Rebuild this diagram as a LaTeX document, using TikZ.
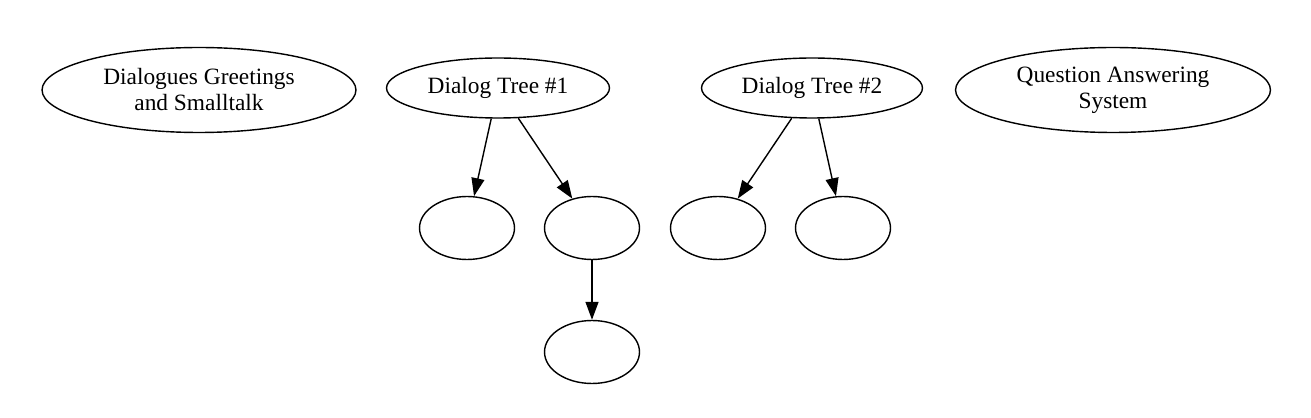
\documentclass[tikz,border=0pt]{standalone}
\usepackage{fontspec}
\setmainfont{Liberation Serif}
\usetikzlibrary{shapes.geometric,arrows.meta}

\begin{document}
\begin{tikzpicture}[
			x=0.02cm, y=-0.02cm,
			every node/.style={font=\fontsize{13.3}{14.8}\selectfont}, % graphviz-ish size
			topic/.style={draw, ellipse, thick, inner sep=0pt, align=center},
			leaf/.style={draw, ellipse, thick, inner sep=0pt, minimum width=1.9cm, minimum height=1.26cm},
			link/.style={thick, -{Triangle[length=0.36cm, width=0.26cm]}}
			]
			\useasboundingbox (0,0) rectangle (1311,418);
			% top row
			\node[topic, minimum width=6.28cm, minimum height=1.7cm] (smalltalk) at (199,90) {Dialogues Greetings\\and Smalltalk};
			\node[topic, minimum width=4.46cm, minimum height=1.2cm] (tree1) at (498,88) {Dialog Tree \#1};
			\node[topic, minimum width=4.42cm, minimum height=1.2cm] (tree2) at (812,88) {Dialog Tree \#2};
			\node[topic, minimum width=6.3cm, minimum height=1.7cm] (qa) at (1113,90) {Question Answering\\System};
			% children
			\node[leaf] (t1a) at (467,228) {};
			\node[leaf] (t1b) at (592,228) {};
			\node[leaf] (t1b1) at (592,352) {};
			\node[leaf] (t2a) at (718,228) {};
			\node[leaf] (t2b) at (843,228) {};
			\draw[link] (tree1) -- (t1a);
			\draw[link] (tree1) -- (t1b);
			\draw[link] (t1b) -- (t1b1);
			\draw[link] (tree2) -- (t2a);
			\draw[link] (tree2) -- (t2b);
		\end{tikzpicture}
\end{document}
